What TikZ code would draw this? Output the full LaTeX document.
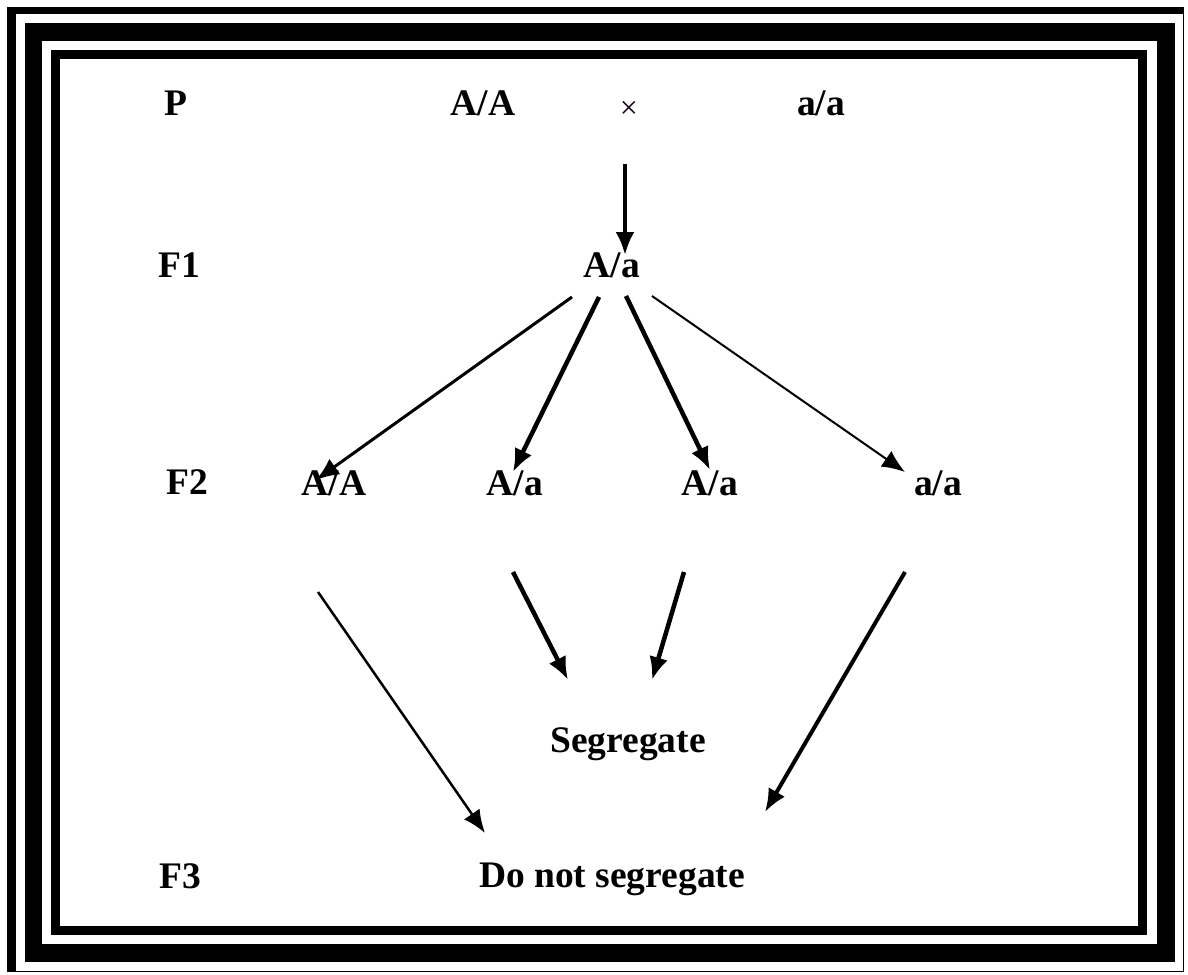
\documentclass[tikz,border=0pt]{standalone}
\usepackage{fontspec}
\setmainfont{Liberation Serif}
\usetikzlibrary{arrows.meta}
\begin{document}
\begin{tikzpicture}[x=1pt,y=-1pt,
  lbl/.style={inner sep=0pt,anchor=base,font=\fontsize{37.5}{44}\selectfont\bfseries},
  arr/.style={draw=black,line width=#1,-{Latex[length=23pt 0 0,width=19pt 0 0]}},
  arr/.default=4pt]
\useasboundingbox (0,0) rectangle (1188,974);
% frame
\fill[black] (7,7) rectangle (1184,972);
\fill[white] (16,14) rectangle (1183,971);
\fill[black] (25,23) rectangle (1175,962);
\fill[white] (42,41) rectangle (1157,944);
\fill[black] (51,50) rectangle (1147,935);
\fill[white] (60,59) rectangle (1138,926);
% labels
\node[lbl] (p)   at (176,115) {P};
\node[lbl] (paa) at (483,115) {A/A};
\node[inner sep=0pt,anchor=base,font=\fontsize{32}{38}\selectfont,text=black!80!violet] (x) at (629,118) {×};
\node[lbl] (pa)  at (821,115) {a/a};
\node[lbl] (f1)  at (179,277) {F1};
\node[lbl] (f1a) at (612,277) {A/a};
\node[lbl] (f2)  at (187,494) {F2};
\node[lbl] (q1)  at (334,495) {A/A};
\node[lbl] (q2)  at (515,495) {A/a};
\node[lbl] (q3)  at (710,495) {A/a};
\node[lbl] (q4)  at (938,495) {a/a};
\node[lbl] (seg) at (628,752) {Segregate};
\node[lbl] (dns) at (612,887) {Do not segregate};
\node[lbl] (f3)  at (180,888) {F3};
% arrows
\draw[arr] ([shift={(-4,46)}]x.base) -- ([shift={(13,-22)}]f1a.base);
\draw[arr=3pt] ([shift={(-40,20)}]f1a.base) -- ([shift={(-18,-15)}]q1.base);
\draw[arr=4.5pt] ([shift={(-13,20)}]f1a.base) -- ([shift={(-2,-23)}]q2.base);
\draw[arr=4.5pt] ([shift={(14,19)}]f1a.base) -- ([shift={(0,-25)}]q3.base);
\draw[arr=2pt] ([shift={(40,19)}]f1a.base) -- ([shift={(-33,-23)}]q4.base);
\draw[arr=2.5pt] ([shift={(-16,97)}]q1.base) -- ([shift={(-127,-54)}]dns.base);
\draw[arr=4.5pt] ([shift={(-2,77)}]q2.base) -- ([shift={(-60,-72)}]seg.base);
\draw[arr=4.5pt] ([shift={(-26,77)}]q3.base) -- ([shift={(24,-72)}]seg.base);
\draw[arr=4pt] ([shift={(-33,77)}]q4.base) -- ([shift={(153,-75)}]dns.base);
\end{tikzpicture}
\end{document}
